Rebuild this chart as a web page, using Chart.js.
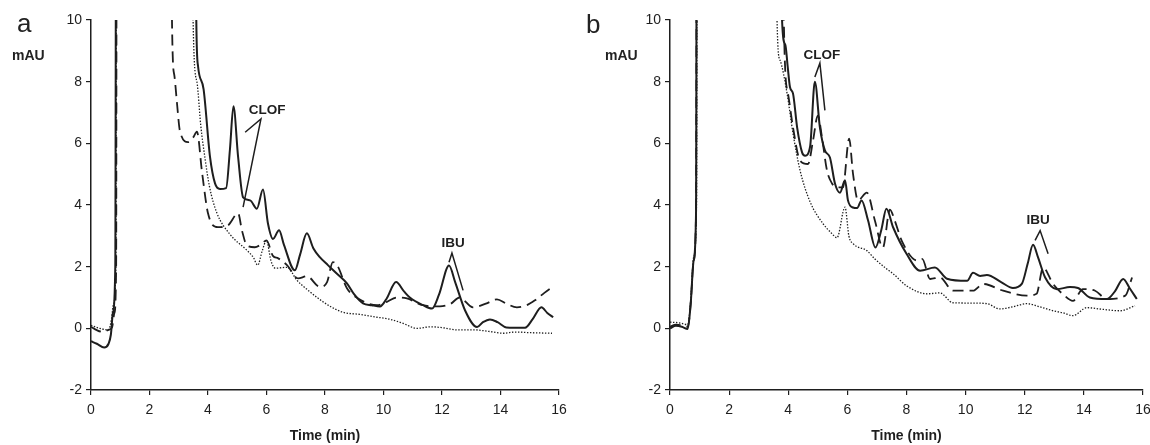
<!DOCTYPE html>
<html>
<head>
<meta charset="utf-8">
<script src="https://cdn.jsdelivr.net/npm/chart.js@4.4.1/dist/chart.umd.min.js"></script>
<style>
  html, body { margin: 0; padding: 0; background: #fff; }
  #wrap { position: relative; width: 1150px; height: 445px; font-family: 'Liberation Sans', Arial, sans-serif; color: #222; }
  .panel { position: absolute; top: 0; width: 575px; height: 445px; }
  .tag { position: absolute; font-size: 26px; line-height: 1; }
  .unit { position: absolute; font-size: 14px; font-weight: bold; line-height: 1; }
</style>
</head>
<body>
<div id="wrap">
  <div class="panel" style="left:0"><canvas id="chartA" width="575" height="445"></canvas></div>
  <div class="panel" style="left:575px"><canvas id="chartB" width="575" height="445"></canvas></div>
  <div class="tag" style="left:17px;top:10px">a</div>
  <div class="unit" style="left:12px;top:48px">mAU</div>
  <div class="tag" style="left:586px;top:11px">b</div>
  <div class="unit" style="left:605px;top:48px">mAU</div>
</div>
<script>
// tick settings
const xTicks = { min: 0, max: 16, step: 2 };
const yTicks = { min: -2, max: 10, step: 2 };

// panel a: [time (min), mAU]  (values above 10 run off the top of the plot)
const aSolid = [[0,-0.42],[0.2,-0.5],[0.45,-0.62],[0.6,-0.5],[0.68,-0.2],[0.75,0.5],[0.83,2.0],[0.88,30],[3.5,30],[3.6,10],
  [3.66,8.5],[3.85,7.75],[4.07,5.55],[4.24,4.7],[4.41,4.52],[4.62,4.55],[4.75,5.8],[4.87,7.2],[5.03,5.55],[5.2,4.25],
  [5.44,4.15],[5.67,3.88],[5.88,4.5],[6.05,3.4],[6.22,2.9],[6.43,3.18],[6.6,2.7],[6.97,1.88],[7.15,2.4],[7.38,3.08],
  [7.6,2.6],[7.83,2.3],[8.1,2.05],[8.4,1.78],[8.75,1.46],[9.0,1.1],[9.3,0.81],[9.6,0.75],[9.88,0.71],[10.1,0.95],
  [10.43,1.5],[10.7,1.2],[10.9,1.0],[11.35,0.75],[11.66,0.64],[11.9,1.1],[12.24,2.04],[12.45,1.5],[12.79,0.58],
  [13.2,0.04],[13.4,0.2],[13.64,0.29],[13.9,0.2],[14.2,0.03],[14.84,0.02],[15.1,0.3],[15.4,0.68],[15.6,0.5],[15.8,0.36]];
const aDashed = [[0,0.05],[0.2,-0.06],[0.41,-0.12],[0.6,-0.05],[0.72,0.03],[0.8,0.5],[0.86,2.0],[0.89,30],[2.7,30],[2.77,9.9],
  [2.85,8.2],[2.94,7.3],[3.04,6.4],[3.32,6.04],[3.5,6.2],[3.62,6.38],[3.8,5.03],[4.0,3.73],[4.34,3.28],[4.68,3.34],
  [5.03,3.73],[5.16,3.18],[5.33,2.69],[5.6,2.63],[5.78,2.7],[6.0,2.85],[6.22,2.35],[6.4,2.27],[6.7,2.05],[7.08,1.62],
  [7.38,1.69],[7.83,1.34],[8.07,1.5],[8.27,2.15],[8.42,2.04],[8.75,1.3],[9.13,0.97],[9.78,0.75],[10.1,0.85],
  [10.46,1.0],[10.8,0.97],[11.35,0.75],[11.93,0.71],[12.3,0.8],[12.6,1.0],[13.06,0.68],[13.5,0.8],[13.88,0.94],
  [14.2,0.8],[14.56,0.68],[14.9,0.75],[15.18,0.91],[15.5,1.15],[15.8,1.36]];
const aDotted = [[0,0.1],[0.3,0.0],[0.6,-0.05],[0.7,0.3],[0.77,0.8],[0.85,2.0],[0.88,30],[3.4,30],[3.49,10],[3.62,8.0],
  [3.75,6.6],[3.9,5.5],[4.05,4.6],[4.3,3.75],[4.75,3.05],[5.33,2.53],[5.55,2.3],[5.7,2.05],[5.85,2.5],[6.0,2.85],
  [6.15,2.2],[6.3,1.95],[6.7,1.98],[7.04,1.56],[7.4,1.25],[7.73,1.0],[8.2,0.7],[8.62,0.52],[9.2,0.45],[9.78,0.36],
  [10.2,0.3],[10.67,0.16],[11.15,0.0],[11.6,0.05],[12.03,0.02],[12.5,-0.05],[13.1,-0.05],[13.6,-0.1],[14.1,-0.16],
  [14.5,-0.12],[15.0,-0.14],[15.76,-0.16]];

// panel b
const bSolid = [[0,0],[0.2,0.08],[0.4,0.05],[0.6,-0.02],[0.7,0.8],[0.8,2.2],[0.88,3.7],[0.93,30],[3.7,30],[3.79,10],
  [3.9,9.2],[3.98,8.5],[4.06,7.82],[4.16,7.62],[4.3,6.52],[4.47,5.7],[4.57,5.6],[4.74,5.9],[4.9,8.0],[5.07,6.52],
  [5.24,5.77],[5.41,5.54],[5.58,4.7],[5.75,4.4],[5.92,4.8],[6.02,4.15],[6.19,3.92],[6.33,3.9],[6.48,4.15],[6.7,3.5],
  [6.95,2.62],[7.15,3.2],[7.32,3.88],[7.55,3.27],[8.0,2.42],[8.46,1.87],[8.96,1.97],[9.37,1.61],[10.05,1.54],
  [10.25,1.8],[10.49,1.7],[10.72,1.73],[11.2,1.5],[11.6,1.31],[11.9,1.44],[12.1,2.1],[12.28,2.71],[12.45,2.3],
  [12.69,1.65],[13.09,1.27],[13.53,1.34],[13.8,1.31],[14.2,1.0],[14.78,0.95],[15.05,1.2],[15.33,1.6],[15.55,1.3],[15.79,0.95]];
const bDashed = [[0,0.05],[0.2,0.12],[0.4,0.1],[0.6,0.05],[0.7,0.8],[0.8,2.2],[0.88,3.7],[0.93,30],[3.75,30],[3.85,10],
  [3.99,7.62],[4.16,6.52],[4.4,5.44],[4.67,5.33],[4.84,6.1],[5.0,6.9],[5.14,6.2],[5.31,5.12],[5.48,4.7],[5.68,4.57],
  [5.85,4.57],[6.06,6.15],[6.19,5.02],[6.36,4.15],[6.66,4.4],[6.93,3.5],[7.2,2.62],[7.44,3.85],[7.6,3.5],[7.84,2.84],
  [8.36,2.2],[8.53,2.25],[8.8,1.6],[9.13,1.65],[9.57,1.22],[10.25,1.22],[10.59,1.44],[11.27,1.22],[12.07,1.06],
  [12.4,1.12],[12.62,1.97],[12.96,1.44],[13.3,1.1],[13.63,0.89],[13.97,1.27],[14.38,1.22],[14.78,0.95],[15.4,1.06],[15.63,1.65]];
const bDotted = [[0,0.2],[0.3,0.18],[0.6,0.12],[0.7,0.9],[0.8,2.3],[0.9,4.2],[0.93,30],[3.55,30],[3.62,10],[3.72,8.7],
  [3.96,7.62],[4.16,6.33],[4.4,5.12],[4.74,4.1],[5.18,3.39],[5.45,3.1],[5.65,2.94],[5.92,3.93],[6.05,3.0],[6.19,2.75],
  [6.66,2.52],[6.93,2.25],[7.3,1.95],[7.55,1.77],[8.0,1.38],[8.7,1.12],[9.13,1.15],[9.57,0.83],[10.2,0.82],[10.72,0.8],
  [11.16,0.63],[11.6,0.7],[12.07,0.8],[12.5,0.7],[12.96,0.57],[13.3,0.5],[13.63,0.41],[14.1,0.67],[14.6,0.62],
  [15.22,0.57],[15.73,0.73]];

// peak labels and leader lines, in data units
const aLabels = [{ text: 'CLOF', x: 6.02, y: 7.08 }, { text: 'IBU', x: 12.38, y: 2.76 }];
const aLeaders = [[[5.27, 6.36], [5.81, 6.79], [5.2, 3.93]], [[12.24, 2.14], [12.34, 2.44], [12.72, 1.23]]];
const bLabels = [{ text: 'CLOF', x: 5.14, y: 8.86 }, { text: 'IBU', x: 12.45, y: 3.5 }];
const bLeaders = [[[4.9, 8.15], [5.07, 8.6], [5.24, 7.07]], [[12.35, 2.85], [12.52, 3.17], [12.79, 2.42]]];

const FONT = "'Liberation Sans', Arial, sans-serif";
const INK = '#1e1e1e';

const notesPlugin = {
  id: 'notes',
  afterDatasetsDraw(chart, args, opts) {
    const { ctx } = chart;
    const x = chart.scales.x, y = chart.scales.y;
    ctx.save();
    ctx.strokeStyle = INK;
    ctx.lineWidth = 1.5;
    opts.leaders.forEach(path => {
      ctx.beginPath();
      path.forEach((p, i) => {
        const px = x.getPixelForValue(p[0]), py = y.getPixelForValue(p[1]);
        if (i === 0) ctx.moveTo(px, py); else ctx.lineTo(px, py);
      });
      ctx.stroke();
    });
    ctx.fillStyle = INK;
    ctx.font = 'bold 13.5px ' + FONT;
    ctx.textAlign = 'center';
    ctx.textBaseline = 'middle';
    opts.labels.forEach(l => ctx.fillText(l.text, x.getPixelForValue(l.x), y.getPixelForValue(l.y)));
    ctx.restore();
  }
};

function trace(points, width, dash) {
  return {
    data: points.map(p => ({ x: p[0], y: p[1] })),
    borderColor: INK,
    borderWidth: width,
    borderDash: dash,
    pointRadius: 0,
    fill: false,
    cubicInterpolationMode: 'monotone'
  };
}

function makeChart(id, solid, dashed, dotted, labels, leaders, yWidth, padRight) {
  return new Chart(document.getElementById(id), {
    type: 'line',
    data: {
      datasets: [
        trace(dotted, 1.3, [1.4, 1.6]),
        trace(dashed, 1.8, [11, 6]),
        trace(solid, 2, [])
      ]
    },
    options: {
      responsive: false,
      animation: false,
      devicePixelRatio: 1,
      layout: { padding: { top: 20, right: padRight, left: 0, bottom: 0 } },
      plugins: {
        legend: { display: false },
        tooltip: { enabled: false },
        notes: { labels: labels, leaders: leaders }
      },
      scales: {
        x: {
          type: 'linear',
          min: xTicks.min,
          max: xTicks.max,
          ticks: { stepSize: xTicks.step, color: INK, font: { size: 14, family: FONT }, padding: 7 },
          grid: { display: true, drawOnChartArea: false, tickLength: 5, color: INK, lineWidth: 1.2 },
          border: { display: true, color: INK, width: 1.5 },
          title: { display: true, text: 'Time (min)', color: INK, font: { size: 14, weight: 'bold', family: FONT }, padding: { top: 0, bottom: 0 } },
          afterFit: s => { s.height = 55; s.paddingLeft = 0; s.paddingRight = 0; }
        },
        y: {
          min: yTicks.min,
          max: yTicks.max,
          ticks: { stepSize: yTicks.step, color: INK, font: { size: 14, family: FONT }, padding: 4 },
          grid: { display: true, drawOnChartArea: false, tickLength: 5, color: INK, lineWidth: 1.2 },
          border: { display: true, color: INK, width: 1.5 },
          afterFit: s => { s.width = yWidth; s.paddingTop = 0; s.paddingBottom = 0; }
        }
      }
    },
    plugins: [notesPlugin]
  });
}

makeChart('chartA', aSolid, aDashed, aDotted, aLabels, aLeaders, 91, 16);
makeChart('chartB', bSolid, bDashed, bDotted, bLabels, bLeaders, 95, 7);
</script>
</body>
</html>
